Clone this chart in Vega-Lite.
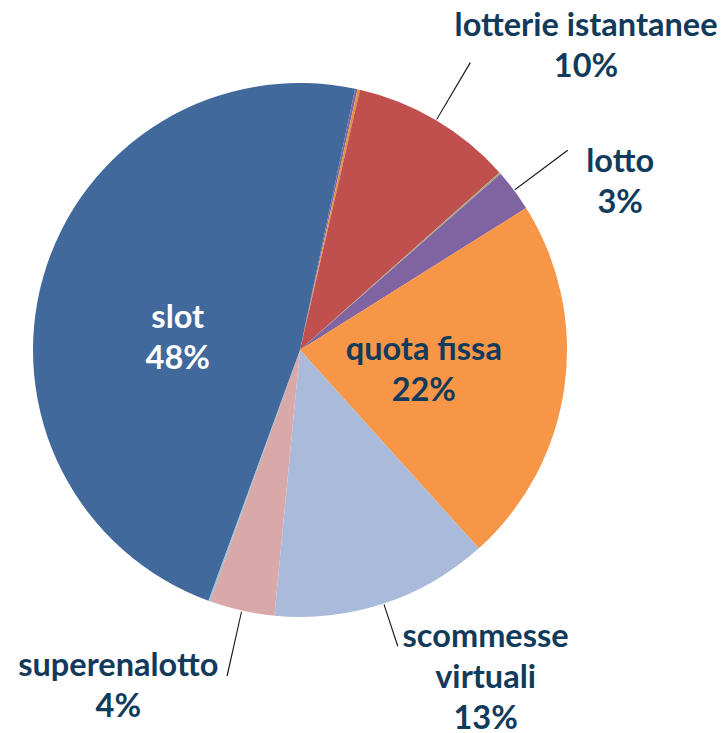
{
  "$schema": "https://vega.github.io/schema/vega-lite/v6.json",
  "width": 600,
  "height": 700,
  "autosize": "none",
  "padding": {"left": 0, "top": 0, "right": 124, "bottom": 33},
  "background": "white",
  "view": {"stroke": null},
  "data": {
    "values": [
      {"order": 1, "category": "altro (a)", "value": 0.15},
      {"order": 2, "category": "altro (b)", "value": 0.15},
      {"order": 3, "category": "lotterie istantanee", "value": 9.82},
      {"order": 4, "category": "altro (c)", "value": 0.1},
      {"order": 5, "category": "lotto", "value": 2.55},
      {"order": 6, "category": "quota fissa", "value": 22.25},
      {"order": 7, "category": "scommesse virtuali", "value": 13.2},
      {"order": 8, "category": "superenalotto", "value": 3.95},
      {"order": 9, "category": "altro (d)", "value": 0.1},
      {"order": 10, "category": "slot", "value": 47.73}
    ]
  },
  "transform": [
    {"stack": "value", "groupby": [], "sort": [{"field": "order", "order": "ascending"}], "as": ["v0", "v1"]},
    {"joinaggregate": [{"op": "sum", "field": "value", "as": "total"}]},
    {"calculate": "(datum.v0 + datum.v1) / 2", "as": "mid"},
    {"calculate": "replace(datum.category, 'scommesse ', 'scommesse\\n') + '\\n' + format(datum.value / datum.total, '.0%')", "as": "label"}
  ],
  "layer": [
    {
      "mark": {"type": "arc", "outerRadius": 267, "innerRadius": 0},
      "encoding": {
        "theta": {"field": "v0", "type": "quantitative", "stack": null, "scale": {"domain": [0, 100], "range": [0.2077, 6.4909]}},
        "theta2": {"field": "v1"},
        "color": {
          "field": "category",
          "type": "nominal",
          "legend": null,
          "scale": {
            "domain": ["altro (a)", "altro (b)", "lotterie istantanee", "altro (c)", "lotto", "quota fissa", "scommesse virtuali", "superenalotto", "altro (d)", "slot"],
            "range": ["#7F67A5", "#E1913F", "#C0504D", "#A5A87C", "#8064A2", "#F79646", "#AABADA", "#D9A9A9", "#92C3DC", "#41699B"]
          }
        }
      }
    },
    {
      "transform": [
        {"filter": "datum.category === 'lotterie istantanee' || datum.category === 'lotto' || datum.category === 'superenalotto'"},
        {"calculate": "datum.mid - 0.03", "as": "l0"},
        {"calculate": "datum.mid + 0.03", "as": "l1"}
      ],
      "mark": {"type": "arc", "innerRadius": 268, "outerRadius": 334, "color": "#1a1a1a"},
      "encoding": {
        "theta": {"field": "l0", "type": "quantitative", "stack": null},
        "theta2": {"field": "l1"}
      }
    },
    {
      "transform": [
        {"filter": "datum.category === 'scommesse virtuali'"},
        {"calculate": "datum.mid - 0.03", "as": "l0"},
        {"calculate": "datum.mid + 0.03", "as": "l1"}
      ],
      "mark": {"type": "arc", "innerRadius": 268, "outerRadius": 312, "color": "#1a1a1a"},
      "encoding": {
        "theta": {"field": "l0", "type": "quantitative", "stack": null},
        "theta2": {"field": "l1"}
      }
    },
    {
      "transform": [{"filter": "datum.category === 'slot'"}],
      "mark": {"type": "text", "radius": 123, "dx": -4, "dy": 2, "align": "center", "baseline": "middle", "font": "Lato", "fontWeight": "bold", "fontSize": 32.5, "lineHeight": 41, "lineBreak": "\n", "fill": "#FFFFFF"},
      "encoding": {
        "theta": {"field": "mid", "type": "quantitative", "stack": null},
        "text": {"field": "label"}
      }
    },
    {
      "transform": [{"filter": "datum.category === 'quota fissa'"}],
      "mark": {"type": "text", "radius": 125, "dx": 0, "dy": -17, "align": "center", "baseline": "middle", "font": "Lato", "fontWeight": "bold", "fontSize": 32.5, "lineHeight": 41, "lineBreak": "\n", "fill": "#123A5B"},
      "encoding": {
        "theta": {"field": "mid", "type": "quantitative", "stack": null},
        "text": {"field": "label"}
      }
    },
    {
      "transform": [{"filter": "datum.category === 'lotterie istantanee'"}],
      "mark": {"type": "text", "radius": 408, "dx": 78, "dy": 27, "align": "center", "baseline": "middle", "font": "Lato", "fontWeight": "bold", "fontSize": 32.5, "lineHeight": 41, "lineBreak": "\n", "fill": "#123A5B"},
      "encoding": {
        "theta": {"field": "mid", "type": "quantitative", "stack": null},
        "text": {"field": "label"}
      }
    },
    {
      "transform": [{"filter": "datum.category === 'lotto'"}],
      "mark": {"type": "text", "radius": 357, "dx": 34, "dy": 25, "align": "center", "baseline": "middle", "font": "Lato", "fontWeight": "bold", "fontSize": 32.5, "lineHeight": 41, "lineBreak": "\n", "fill": "#123A5B"},
      "encoding": {
        "theta": {"field": "mid", "type": "quantitative", "stack": null},
        "text": {"field": "label"}
      }
    },
    {
      "transform": [{"filter": "datum.category === 'scommesse virtuali'"}],
      "mark": {"type": "text", "radius": 372, "dx": 69, "dy": -66, "align": "center", "baseline": "middle", "font": "Lato", "fontWeight": "bold", "fontSize": 32.5, "lineHeight": 41, "lineBreak": "\n", "fill": "#123A5B"},
      "encoding": {
        "theta": {"field": "mid", "type": "quantitative", "stack": null},
        "text": {"field": "label"}
      }
    },
    {
      "transform": [{"filter": "datum.category === 'superenalotto'"}],
      "mark": {"type": "text", "radius": 370, "dx": -101, "dy": -45, "align": "center", "baseline": "middle", "font": "Lato", "fontWeight": "bold", "fontSize": 32.5, "lineHeight": 41, "lineBreak": "\n", "fill": "#123A5B"},
      "encoding": {
        "theta": {"field": "mid", "type": "quantitative", "stack": null},
        "text": {"field": "label"}
      }
    }
  ]
}
